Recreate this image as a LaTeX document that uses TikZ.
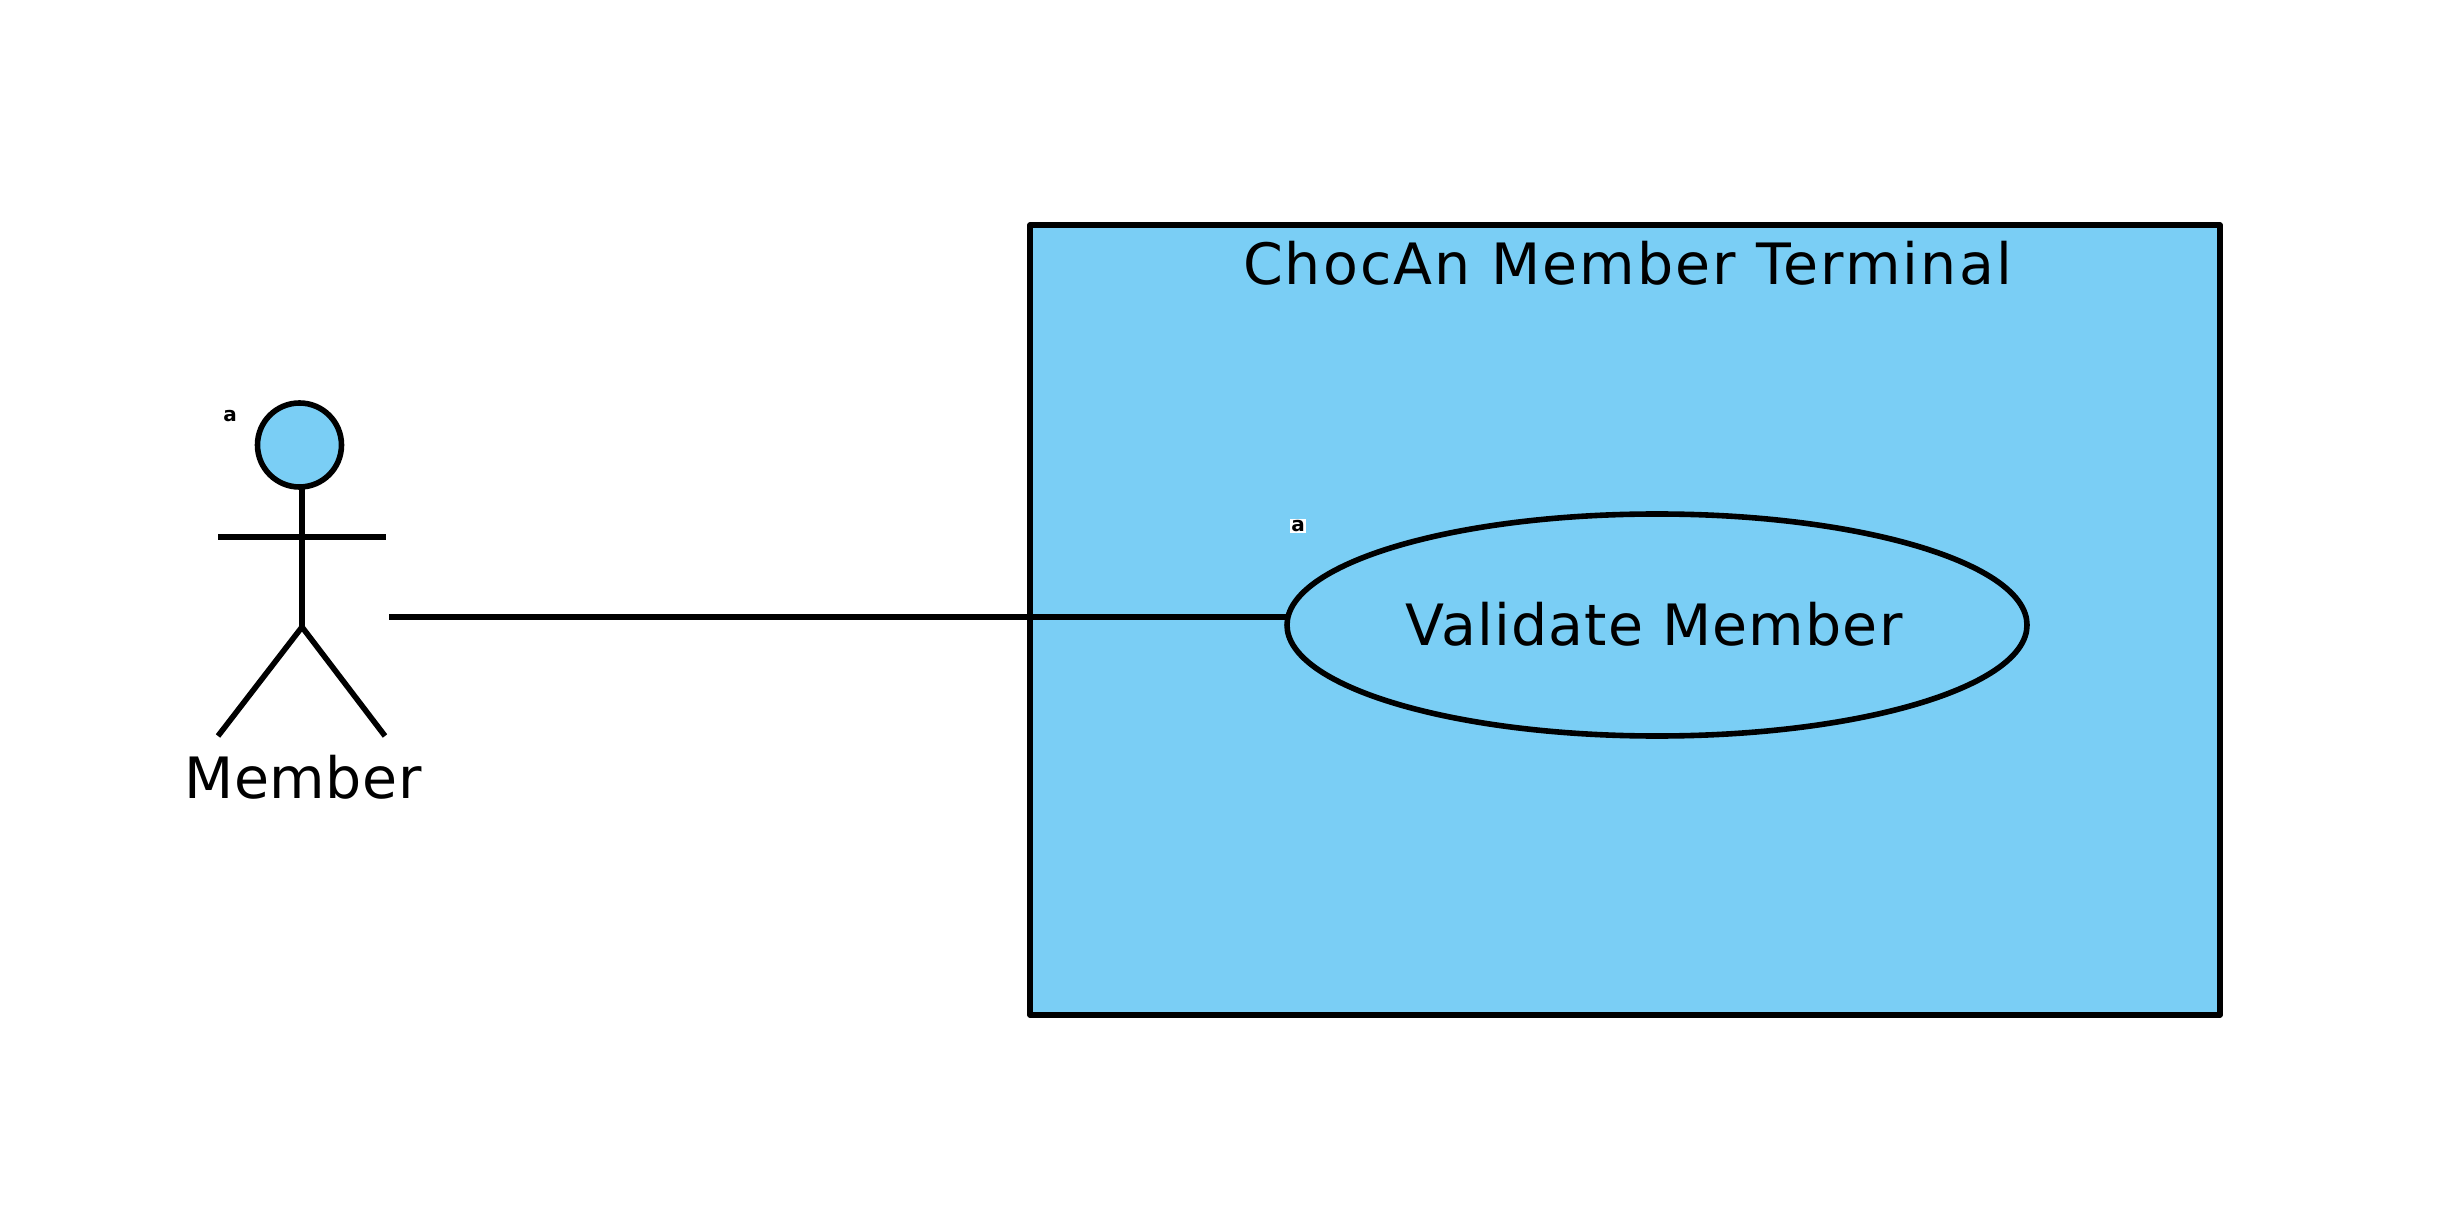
\documentclass[tikz,border=0pt]{standalone}
\usepackage{fontspec}
\usetikzlibrary{shapes.geometric}
\setmainfont{DejaVu Sans}
\definecolor{umlblue}{HTML}{7ACEF5}
\tikzset{
  umlline/.style={line width=2.8pt,black},
  umllabel/.style={inner sep=0pt,anchor=base,font=\fontsize{28.5}{34}\selectfont},
  umlmark/.style={inner sep=0.6pt,font=\fontsize{10}{11}\selectfont\bfseries},
}
\begin{document}
\begin{tikzpicture}[x=0.5pt,y=-0.5pt]
   \useasboundingbox (0,0) rectangle (2450,1218);

   % system boundary
   \node[umlline,draw,fill=umlblue,line join=round,inner sep=0pt,outer sep=0pt,
     minimum width=595pt,minimum height=395pt] (terminal) at (1625,620) {};
   \node[umllabel] (terminaltitle) at (1627.5,285) {\addfontfeature{LetterSpace=3.7}ChocAn Member Terminal};

   % use case
   \node[umlline,draw,ellipse,fill=umlblue,inner sep=0pt,outer sep=0pt,
     minimum width=370pt,minimum height=111pt] (validate) at (1657,625) {};
   \node[umllabel] (validatelabel) at (1654,645.5) {\addfontfeature{LetterSpace=2}Validate Member};
   \node[umlmark,fill=white] (validatemark) at (1298,526) {a};

   % actor
   \node[umlline,draw,circle,fill=umlblue,inner sep=0pt,outer sep=0pt,
     minimum size=42pt] (head) at (299.5,445) {};
   \coordinate (hip) at (302,627);
   \coordinate (armleft) at (218,537);
   \coordinate (armright) at (386,537);
   \coordinate (footleft) at (218,736);
   \coordinate (footright) at (385,736);
   \draw[umlline] (hip |- head.south) -- (hip);
   \draw[umlline] (armleft) -- (armright);
   \draw[umlline] (footleft) -- (hip) -- (footright);
   \node[umllabel] (member) at (303,798) {\addfontfeature{LetterSpace=1}Member};
   \node[umlmark] (membermark) at (230,416) {a};

   % association
   \coordinate (memberhand) at (389,617);
   \draw[umlline] (memberhand) -- (memberhand -| validate.west);
\end{tikzpicture}
\end{document}
